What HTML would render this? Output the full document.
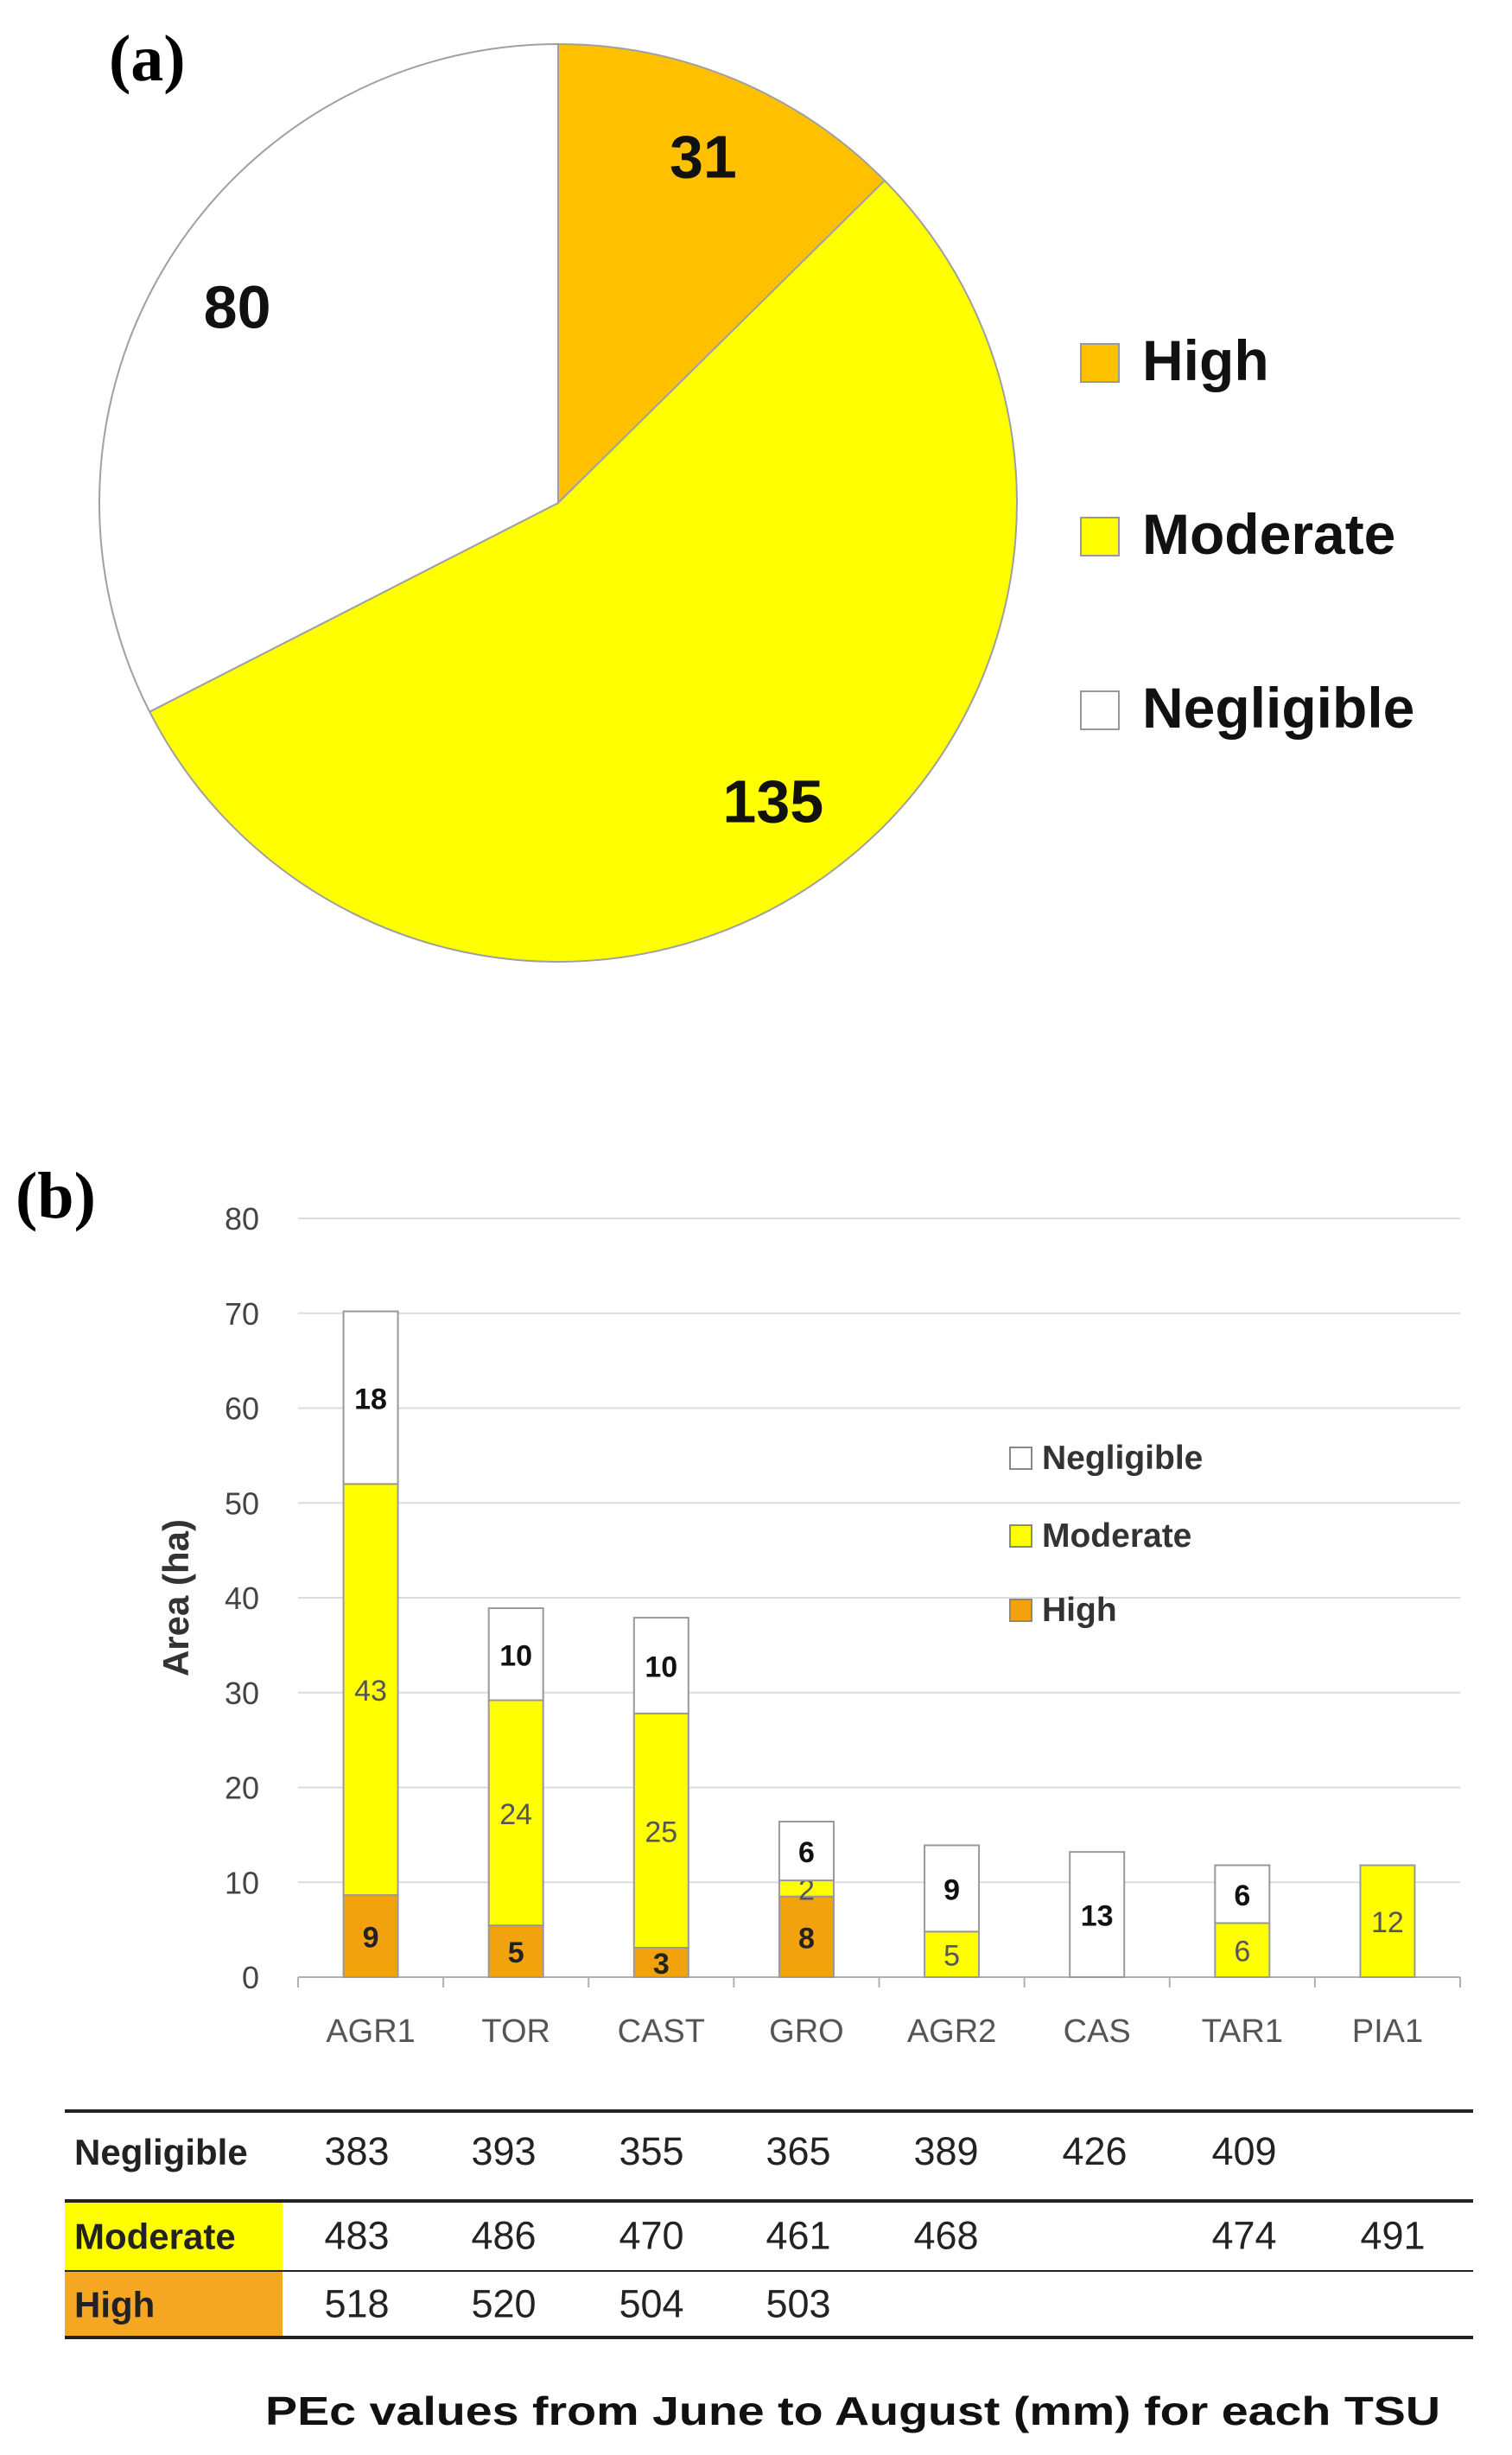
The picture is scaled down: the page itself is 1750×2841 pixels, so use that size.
<!DOCTYPE html>
<html><head><meta charset="utf-8"><style>
html,body{margin:0;padding:0;background:#fff;}
svg{display:block;font-family:"Liberation Sans",sans-serif;}
</style></head><body>
<svg id="fig" width="1750" height="2841" viewBox="0 0 1750 2841">
<text x="126" y="93" font-family="Liberation Serif, serif" font-weight="bold" font-size="76">(a)</text>
<g id="pie"></g>
<g id="pieLegend"></g>
<text x="18" y="1409" font-family="Liberation Serif, serif" font-weight="bold" font-size="76">(b)</text>
<g id="bar"></g>
<g id="tbl"></g>
<text x="987" y="2806" text-anchor="middle" font-weight="bold" font-size="46" textLength="1360" lengthAdjust="spacingAndGlyphs" fill="#111">PEc values from June to August (mm) for each TSU</text>
</svg>
<script>
const NS="http://www.w3.org/2000/svg";
function mk(p,t,a){const e=document.createElementNS(NS,t);for(const k in a)e.setAttribute(k,a[k]);p.appendChild(e);return e;}

// ---- pie data ----
const pieLabels=["High","Moderate","Negligible"];
const pieValues=[31,135,80];
const pieColors=["#FFC000","#FFFF00","#FFFFFF"];

const pie=document.getElementById('pie');
const cx=646,cy=582,R=531;
const total=pieValues.reduce((a,b)=>a+b,0);
let cum=0;
const pt=(ang,r)=>[cx+r*Math.sin(ang),cy-r*Math.cos(ang)];
pieValues.forEach((v,i)=>{
  const a0=cum/total*2*Math.PI; cum+=v; const a1=cum/total*2*Math.PI;
  const p0=pt(a0,R),p1=pt(a1,R);
  const large=(a1-a0)>Math.PI?1:0;
  const s=mk(pie,'path',{d:`M${cx},${cy} L${p0[0]},${p0[1]} A${R},${R} 0 ${large} 1 ${p1[0]},${p1[1]} Z`,fill:pieColors[i],stroke:'#a0a0a0','stroke-width':2});
  
  
  const am=(a0+a1)/2; const rr=[0.82,0.8,0.82][i];
  const lp=pt(am,R*rr);
  const t=mk(pie,'text',{x:lp[0],y:lp[1]+25,'text-anchor':'middle','font-weight':'bold','font-size':70,fill:'#111'});
  t.textContent=v;
  
  
});
const pl=document.getElementById('pieLegend');
pieLabels.forEach((l,i)=>{
  const y=398+i*201;
  const r=mk(pl,'rect',{x:1251,y:y,width:44,height:44,fill:pieColors[i],stroke:'#999','stroke-width':2});
  
  
  const t=mk(pl,'text',{x:1322,y:y+42,'font-weight':'bold','font-size':66,fill:'#111'});
  t.textContent=l;
  
  
});

// ---- bar data ----
const categories=["AGR1","TOR","CAST","GRO","AGR2","CAS","TAR1","PIA1"];
const highVals=[8.65,5.45,3.1,8.5,0,0,0,0];
const modVals=[43.35,23.75,24.7,1.7,4.8,0,5.7,11.8];
const negVals=[18.2,9.7,10.1,6.2,9.1,13.2,6.1,0];
const highLbl=["9","5","3","8","","","",""];
const modLbl=["43","24","25","2","5","","6","12"];
const negLbl=["18","10","10","6","9","13","6",""];
const yTicks=[0,10,20,30,40,50,60,70,80];

const bar=document.getElementById('bar');
const x0=345,x1=1690,yB=2288,yT=1410,yMax=80;
const Y=v=>yB-(v/yMax)*(yB-yT);
const bw=(x1-x0)/categories.length;
const X=i=>x0+bw*(i+0.5);
yTicks.forEach(v=>{
  const l=mk(bar,'line',{x1:x0,x2:x1,y1:Y(v),y2:Y(v),stroke:v===0?'#b0b0b0':'#dcdcdc','stroke-width':2});
  
  
  const t=mk(bar,'text',{x:300,y:Y(v)+13,'text-anchor':'end','font-size':36,fill:'#444'});
  t.textContent=v;
  
  
});
for(let i=0;i<=categories.length;i++){
  const l=mk(bar,'line',{x1:x0+bw*i,x2:x0+bw*i,y1:yB,y2:yB+12,stroke:'#b0b0b0','stroke-width':2});
  
  
}
const yt=mk(bar,'text',{x:0,y:0,transform:'translate(218,1849) rotate(-90)','text-anchor':'middle','font-weight':'bold','font-size':42,fill:'#333'});
yt.textContent='Area (ha)';


const series=[
 {n:'high',v:highVals,l:highLbl,c:'#F2A20C',tc:'#222',fw:'bold'},
 {n:'moderate',v:modVals,l:modLbl,c:'#FFFF00',tc:'#555',fw:'normal'},
 {n:'negligible',v:negVals,l:negLbl,c:'#FFFFFF',tc:'#111',fw:'bold'}];
const BW=63;
categories.forEach((c,i)=>{
  let base=0;
  series.forEach(s=>{
    const v=s.v[i];
    if(v>0){
      const r=mk(bar,'rect',{x:X(i)-BW/2,y:Y(base+v),width:BW,height:Y(base)-Y(base+v),fill:s.c,stroke:'#999','stroke-width':2});
      
      
      if(s.l[i]){
        const t=mk(bar,'text',{x:X(i),y:(Y(base)+Y(base+v))/2+13,'text-anchor':'middle','font-size':34,'font-weight':s.fw,fill:s.tc});
        t.textContent=s.l[i];
        
        
      }
    }
    base+=v;
  });
  const t=mk(bar,'text',{x:X(i),y:2363,'text-anchor':'middle','font-size':38,fill:'#555'});
  t.textContent=c;
  
  
});
const legItems=[['Negligible','#FFFFFF',1675],['Moderate','#FFFF00',1765],['High','#F2A20C',1851]];
legItems.forEach(([n,c,y])=>{
  const r=mk(bar,'rect',{x:1169,y:y,width:25,height:25,fill:c,stroke:'#888','stroke-width':2});
  
  
  const t=mk(bar,'text',{x:1206,y:y+25,'font-weight':'bold','font-size':39,fill:'#333'});
  t.textContent=n;
  
  
});

// ---- table ----
const rowNames=["Negligible","Moderate","High"];
const rowVals=[["383","393","355","365","389","426","409",""],
 ["483","486","470","461","468","","474","491"],
 ["518","520","504","503","","","",""]];
const tbl=document.getElementById('tbl');
const rowTop=[2443,2547,2628],rowBot=[2547,2628,2705];
const rowBg=[null,'#FFFF00','#F5A623'];
const colX=[413,583,754,924,1095,1267,1440,1612];
rowNames.forEach((n,r)=>{
  if(rowBg[r]){
    const b=mk(tbl,'rect',{x:75,y:rowTop[r],width:252,height:rowBot[r]-rowTop[r],fill:rowBg[r]});
    
    
  }
  const cyR=(rowTop[r]+rowBot[r])/2+ (r===0?10:15);
  const t=mk(tbl,'text',{x:86,y:cyR,'font-weight':'bold','font-size':42,fill:'#222'});
  t.textContent=n;
  
  
  rowVals[r].forEach((v,j)=>{
    if(!v)return;
    const c=mk(tbl,'text',{x:colX[j],y:cyR,'text-anchor':'middle','font-size':45,fill:'#222'});
    c.textContent=v;
    
    
  });
});
[[2443,4],[2547,4],[2628,2],[2705,4]].forEach(([y,w])=>{
  const l=mk(tbl,'line',{x1:75,x2:1705,y1:y,y2:y,stroke:'#222','stroke-width':w});
  
  
});
</script>
</body></html>
